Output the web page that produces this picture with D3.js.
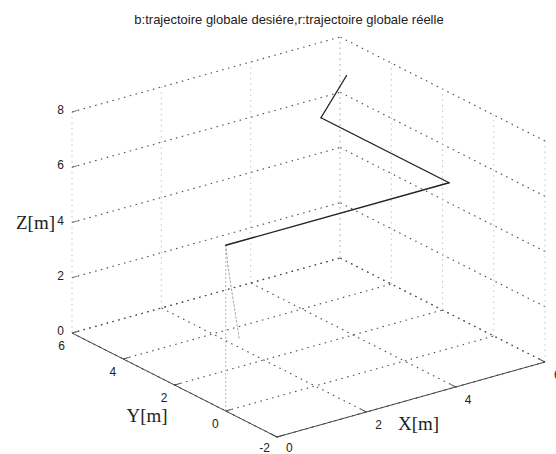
<!DOCTYPE html>
<html><head><meta charset="utf-8">
<script src="https://cdn.jsdelivr.net/npm/d3@7"></script>
<style>body{margin:0;background:#fff;overflow:hidden}</style></head>
<body>
<svg id="c" width="556" height="454"></svg>
<script>
const titleText = "b:trajectoire globale desiére,r:trajectoire globale réelle";
const xTicks = [0, 2, 4, 6];
const yTicks = [-2, 0, 2, 4, 6];
const zTicks = [0, 2, 4, 6, 8];
const xDomain = [0, 6], yDomain = [-2, 6], zDomain = [0, 8];
// desired trajectory (blue, prints faint)
const desiredX = [0, 0, 5, 5, 5];
const desiredY = [0, 0, 0, 5, 4];
const desiredZ = [0, 6, 6, 6, 8];
// real trajectory (red)
const realX = [0.3, 0.05, 0, 5, 5, 5];
const realY = [0, 0, 0, 0, 5, 4];
const realZ = [2.5, 5.2, 6, 6, 6, 8];

const svg = d3.select("#c");
const O = [277, 437];
const xsx = d3.scaleLinear().domain(xDomain).range([0, 268]);
const xsy = d3.scaleLinear().domain(xDomain).range([0, -75]);
const ysx = d3.scaleLinear().domain(yDomain).range([0, -205]);
const ysy = d3.scaleLinear().domain(yDomain).range([0, -104]);
const zs  = d3.scaleLinear().domain(zDomain).range([0, -221]);
const P = (x, y, z) => [O[0] + xsx(x) + ysx(y), O[1] + xsy(x) + ysy(y) + zs(z)];

const gGrid = svg.append("g");
function seg(g, a, b, cls) {
  const p = P(...a), q = P(...b);
  const l = g.append("line").attr("x1", p[0]).attr("y1", p[1]).attr("x2", q[0]).attr("y2", q[1]);
  if (cls === "h") l.attr("stroke", "#4a4a4a").attr("stroke-width", 1.1).attr("stroke-dasharray", "1.5,4.5");
  else if (cls === "v") l.attr("stroke", "#c4c4c4").attr("stroke-width", 1).attr("stroke-dasharray", "1.5,4");
  else l.attr("stroke", "#444").attr("stroke-width", 1);
  return l;
}
const [x0, x1] = xDomain, [y0, y1] = yDomain, [z0, z1] = zDomain;
// floor grid
xTicks.forEach(x => seg(gGrid, [x, y0, z0], [x, y1, z0], "h"));
yTicks.forEach(y => seg(gGrid, [x0, y, z0], [x1, y, z0], "h"));
// back wall (y = y1)
zTicks.forEach(z => seg(gGrid, [x0, y1, z], [x1, y1, z], "h"));
xTicks.forEach(x => seg(gGrid, [x, y1, z0], [x, y1, z1], "v"));
// side wall (x = x1)
zTicks.forEach(z => seg(gGrid, [x1, y0, z], [x1, y1, z], "h"));
yTicks.forEach(y => seg(gGrid, [x1, y, z0], [x1, y, z1], "v"));

// axes lines
seg(svg, [x0, y0, z0], [x1, y0, z0], "a");
seg(svg, [x0, y0, z0], [x0, y1, z0], "a");

// ticks
const gT = svg.append("g").attr("font-family", "Liberation Sans, Arial, sans-serif").attr("font-size", 12).attr("fill", "#222");
xTicks.forEach(x => {
  seg(svg, [x, y0, z0], [x, y0 + 0.2, z0], "a");
  const p = P(x, y0, z0);
  gT.append("text").attr("x", p[0] + 9).attr("y", Math.min(p[1] + 17, 452)).text(x);
});
yTicks.forEach(y => {
  seg(svg, [x0, y, z0], [x0 + 0.12, y, z0], "a");
  const p = P(x0, y, z0);
  gT.append("text").attr("x", p[0] - 7).attr("y", Math.min(p[1] + 17, 452)).attr("text-anchor", "end").text(y);
});
zTicks.forEach(z => {
  seg(svg, [x0, y1, z], [x0 + 0.12, y1, z], "a").attr("stroke", "#777");
  const p = P(x0, y1, z);
  gT.append("text").attr("x", p[0] - 8).attr("y", p[1] + 2).attr("text-anchor", "end").text(z);
});

// axis labels
const gL = svg.append("g").attr("font-family", "Liberation Serif, Times New Roman, serif").attr("font-size", 19).attr("fill", "#222");
let pm = P((x0 + x1) / 2, y0, z0);
gL.append("text").attr("x", pm[0] - 13).attr("y", pm[1] + 30).text("X[m]");
pm = P(x0, (y0 + y1) / 2, z0);
gL.append("text").attr("x", pm[0] - 48).attr("y", pm[1] + 37).text("Y[m]");
pm = P(x0, y1, (z0 + z1) / 2);
gL.append("text").attr("x", pm[0] - 17).attr("y", pm[1] + 6).attr("text-anchor", "end").text("Z[m]");

// title
svg.append("text").attr("x", 289).attr("y", 24).attr("text-anchor", "middle")
  .attr("font-family", "Liberation Sans, Arial, sans-serif").attr("font-size", 13).attr("fill", "#222")
  .text(titleText);

// trajectories
const line = d3.line();
const desPts = desiredX.map((x, i) => P(x, desiredY[i], desiredZ[i]));
svg.append("path").attr("d", line(desPts)).attr("fill", "none")
  .attr("stroke", "#b5b5b5").attr("stroke-width", 1).attr("stroke-dasharray", "2,2");
const shade = d3.scaleThreshold().domain([6]).range(["#aaa", "#222"]);
for (let i = 0; i < realX.length - 1; i++) {
  const a = P(realX[i], realY[i], realZ[i]), b = P(realX[i + 1], realY[i + 1], realZ[i + 1]);
  const zmin = Math.min(realZ[i], realZ[i + 1]);
  svg.append("line").attr("x1", a[0]).attr("y1", a[1]).attr("x2", b[0]).attr("y2", b[1])
    .attr("stroke", shade(zmin)).attr("stroke-width", zmin < 6 ? 1 : 1.3)
    .attr("stroke-dasharray", zmin < 6 ? "2,2" : null).attr("stroke-linecap", "round");
}
</script>
</body></html>
